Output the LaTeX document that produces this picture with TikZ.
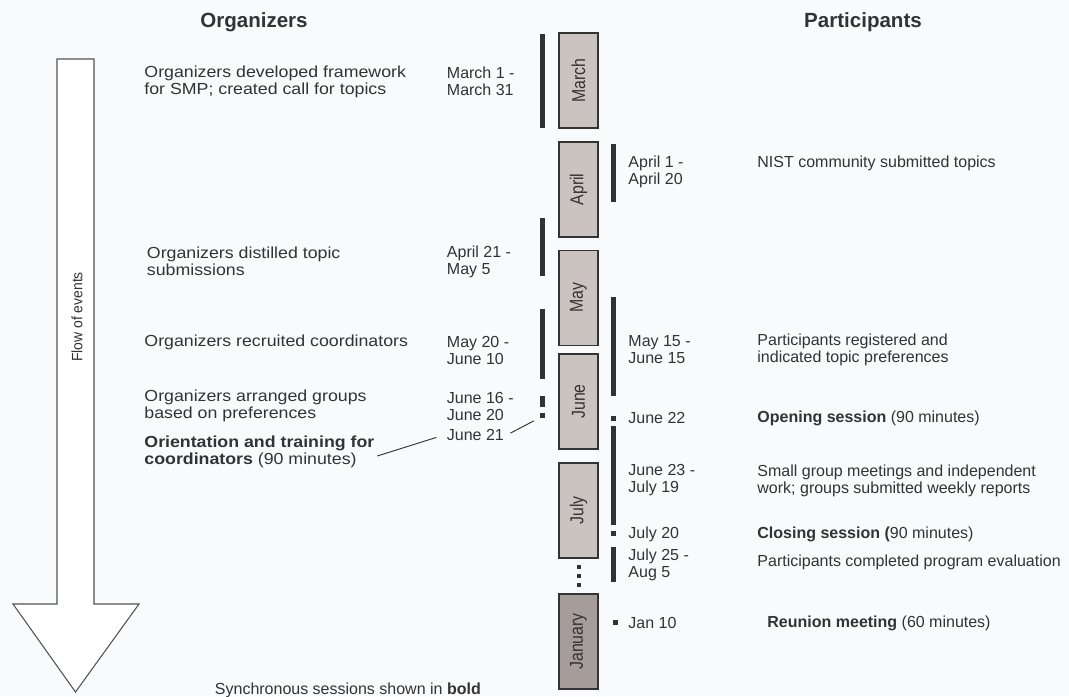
\documentclass[tikz,border=0pt]{standalone}
\usepackage{fontspec}
\usepackage{graphicx}
\setmainfont{Liberation Sans}
\newfontfamily\orgfont[FakeStretch=1.11]{Liberation Sans}
\usetikzlibrary{positioning}
\definecolor{bgcol}{RGB}{249,250,252}
\definecolor{txtcol}{RGB}{51,51,51}
\definecolor{boxcol}{RGB}{203,195,192}
\definecolor{jancol}{RGB}{166,156,153}
\definecolor{barcol}{RGB}{50,50,52}
\def\lbar{542.5}
\def\rbar{613.5}
\def\boxx{578.5}
\def\bw{2.5}
\tikzset{
  txt/.style={anchor=west, align=left, inner sep=2pt, text=txtcol, font=\fontsize{12}{12.75}\selectfont},
  orgtxt/.style={txt, font=\orgfont\fontsize{12}{12.75}\selectfont},
  head/.style={text=txtcol, font=\fontsize{15.4}{18}\selectfont\bfseries},
  monthbox/.style={draw=txtcol, line width=0.9pt, fill=boxcol, rotate=90, minimum width=71.25pt, minimum height=29.25pt, inner sep=0pt, text=txtcol, font=\fontsize{14}{14}\selectfont},
  tick/.style={fill=barcol, minimum size=3.75pt, inner sep=0pt},
  link/.style={draw=txtcol, line width=0.7pt}
}

\begin{document}
\begin{tikzpicture}[x=0.75pt,y=-0.75pt]
\fill[bgcol] (0,0) rectangle (1069,696);
\useasboundingbox (0,0) rectangle (1069,696);

\node[head] (orghead) at (254,22) {Organizers};
\node[head] (parthead) at (863,22) {Participants};

% flow arrow
\draw[draw=txtcol!85, line width=0.8pt, fill=white] (57,59) -- (94,59) -- (94,604) -- (139,604) -- (75.5,692) -- (13,604) -- (57,604) -- cycle;
\node[rotate=90, text=txtcol, font=\fontsize{11.25}{12}\selectfont] (flow) at (77,317) {\scalebox{0.93}[1]{Flow of events}};

% months
\foreach \n/\m/\y in {march/March/80.5, april/April/189.5, may/May/298, june/June/401.5, july/July/510.5}{
  \node[monthbox] (\n) at (\boxx,\y) {\scalebox{0.85}[1]{\m}};
}
\node[monthbox, fill=jancol] (january) at (\boxx,641.5) {\scalebox{0.85}[1]{January}};
\foreach \y in {567,575.5,585}{
  \fill[barcol] (\boxx-2,\y-2) rectangle (\boxx+2,\y+2);
}

% bars
\foreach \a/\b in {34/128, 218/276, 309/379, 396/407}{
  \fill[barcol] (\lbar-\bw,\a) rectangle (\lbar+\bw,\b);
}
\foreach \a/\b in {144/202, 297/396, 426/525, 547/582}{
  \fill[barcol] (\rbar-\bw,\a) rectangle (\rbar+\bw,\b);
}
\node[tick] (tick21) at (\lbar,415) {};
\node[tick] (tick22) at (\rbar,418.5) {};
\node[tick] (tick20) at (\rbar,533.5) {};
\node[tick] (tick10) at (\rbar+1.5,622) {};

% organizers
\node[orgtxt] (org1) at (141.5,81.5) {Organizers developed framework\\for SMP; created call for topics};
\node[orgtxt] (org2) at (144,261.5) {Organizers distilled topic\\submissions};
\node[orgtxt] (org3) at (141.5,342) {Organizers recruited coordinators};
\node[orgtxt] (org4) at (141.5,406) {Organizers arranged groups\\based on preferences};
\node[orgtxt] (orient) at (141.5,452) {\textbf{Orientation and training for}\\\textbf{coordinators} (90 minutes)};

\node[txt] (mar1) at (444,81.5) {March 1 -\\March 31};
\node[txt] (apr21) at (444,261.5) {April 21 -\\May 5};
\node[txt] (may20) at (444,350) {May 20 -\\June 10};
\node[txt] (jun16) at (444,406) {June 16 -\\June 20};
\node[txt] (jun21) at (444,435) {June 21};

% participants
\node[txt] (apr1) at (625.5,172) {April 1 -\\April 20};
\node[txt] (may15) at (625.5,350) {May 15 -\\June 15};
\node[txt] (jun22) at (625.5,418) {June 22};
\node[txt] (jun23) at (625.5,480.5) {June 23 -\\July 19};
\node[txt] (jul20) at (625.5,534) {July 20};
\node[txt] (jul25) at (625.5,564.5) {July 25 -\\Aug 5};
\node[txt] (jan10) at (625.5,622.5) {Jan 10};

\node[txt] (par1) at (754.5,163) {NIST community submitted topics};
\node[txt] (par2) at (754.5,350) {Participants registered and\\indicated topic preferences};
\node[txt] (par3) at (754.5,418) {\textbf{Opening session} (90 minutes)};
\node[txt] (par4) at (754.5,480.5) {Small group meetings and independent\\work; groups submitted weekly reports};
\node[txt] (par5) at (754.5,534) {\textbf{Closing session (}90 minutes)};
\node[txt] (par6) at (754.5,562) {Participants completed program evaluation};
\node[txt] (par7) at (764.5,623) {\textbf{Reunion meeting} (60 minutes)};

\node[txt] (note) at (212,690) {Synchronous sessions shown in \textbf{bold}};

\draw[link, shorten >=6pt] ([yshift=-3pt]orient.east) -- (jun21.west);
\draw[link, shorten <=3pt, shorten >=5pt] (jun21.east) -- (tick21.south west);

\end{tikzpicture}
\end{document}
